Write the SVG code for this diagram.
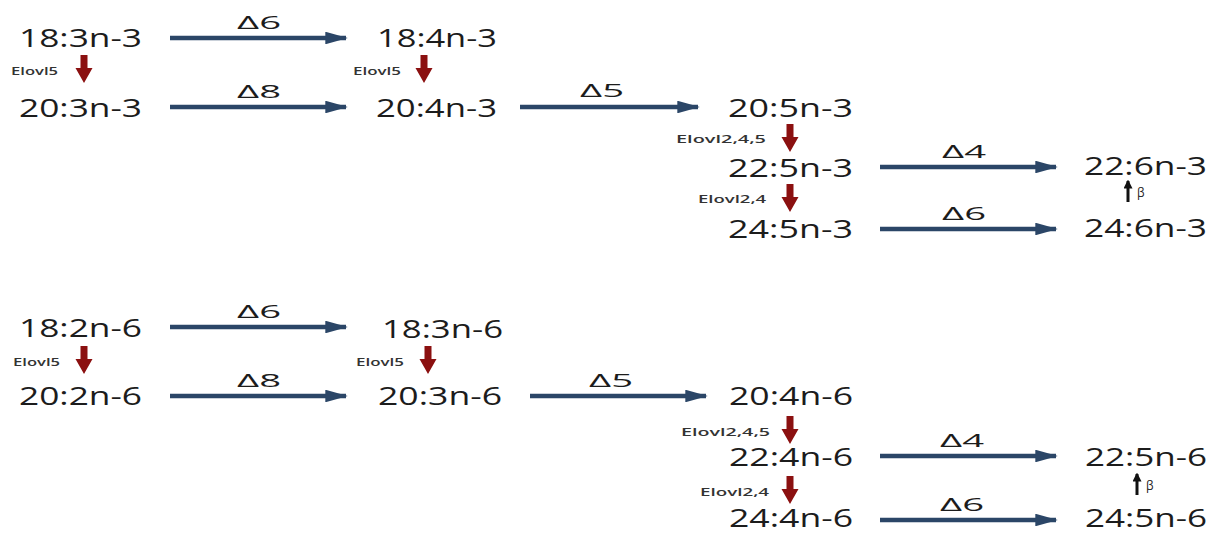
<svg xmlns="http://www.w3.org/2000/svg" width="1217" height="533" viewBox="0 0 1217 533">
<style>
.n{font-family:"Open Sans","DejaVu Sans",sans-serif;font-size:26px;font-weight:500;fill:#1c1c1c}
.d{font-family:"Open Sans","DejaVu Sans",sans-serif;font-size:18px;font-weight:500;fill:#1c1c1c}
.e{font-family:"Open Sans","DejaVu Sans",sans-serif;font-size:11px;font-weight:600;fill:#333}
.b{font-family:"Open Sans","DejaVu Sans",sans-serif;font-size:12px;fill:#222}
.c{stroke:#2b4667;stroke-width:4.5;fill:none;marker-end:url(#ah)}
.r{fill:#8b1010}
.k{stroke:#111;stroke-width:3;fill:none;marker-end:url(#kh)}
</style>
<defs>
<marker id="ah" markerWidth="5" markerHeight="2.8" refX="4.6" refY="1.4" orient="auto" markerUnits="strokeWidth"><path d="M0,0 L5,1.4 L0,2.8 Z" fill="#2b4667"/></marker>
<marker id="kh" markerWidth="3" markerHeight="3" refX="2.5" refY="1.5" orient="auto" markerUnits="strokeWidth"><path d="M0,0 L3,1.5 L0,3 Z" fill="#111"/></marker>
<path id="ra" d="M-3.5,0 H3.5 V13 H8.5 L0,28 L-8.5,13 H-3.5 Z"/>
</defs>
<g id="n3-18-3"><text class="n" x="19" y="47" textLength="123" lengthAdjust="spacingAndGlyphs">18:3n-3</text></g>
<g id="n3-18-4"><text class="n" x="377" y="47" textLength="120" lengthAdjust="spacingAndGlyphs">18:4n-3</text></g>
<g id="n3-20-3"><text class="n" x="19" y="117" textLength="123" lengthAdjust="spacingAndGlyphs">20:3n-3</text></g>
<g id="n3-20-4"><text class="n" x="376" y="117" textLength="121" lengthAdjust="spacingAndGlyphs">20:4n-3</text></g>
<g id="n3-20-5"><text class="n" x="728" y="117" textLength="125" lengthAdjust="spacingAndGlyphs">20:5n-3</text></g>
<g id="n3-22-5"><text class="n" x="728" y="177" textLength="125" lengthAdjust="spacingAndGlyphs">22:5n-3</text></g>
<g id="n3-24-5"><text class="n" x="728" y="238" textLength="125" lengthAdjust="spacingAndGlyphs">24:5n-3</text></g>
<g id="n3-22-6"><text class="n" x="1084" y="175" textLength="123" lengthAdjust="spacingAndGlyphs">22:6n-3</text></g>
<g id="n3-24-6"><text class="n" x="1084" y="237" textLength="123" lengthAdjust="spacingAndGlyphs">24:6n-3</text></g>

<g id="n6-18-2"><text class="n" x="19" y="337" textLength="123" lengthAdjust="spacingAndGlyphs">18:2n-6</text></g>
<g id="n6-18-3"><text class="n" x="382" y="338" textLength="121" lengthAdjust="spacingAndGlyphs">18:3n-6</text></g>
<g id="n6-20-2"><text class="n" x="19" y="405" textLength="123" lengthAdjust="spacingAndGlyphs">20:2n-6</text></g>
<g id="n6-20-3"><text class="n" x="378" y="405" textLength="124" lengthAdjust="spacingAndGlyphs">20:3n-6</text></g>
<g id="n6-20-4"><text class="n" x="729" y="405" textLength="124" lengthAdjust="spacingAndGlyphs">20:4n-6</text></g>
<g id="n6-22-4"><text class="n" x="729" y="466" textLength="124" lengthAdjust="spacingAndGlyphs">22:4n-6</text></g>
<g id="n6-24-4"><text class="n" x="729" y="527" textLength="124" lengthAdjust="spacingAndGlyphs">24:4n-6</text></g>
<g id="n6-22-5"><text class="n" x="1085" y="466" textLength="122" lengthAdjust="spacingAndGlyphs">22:5n-6</text></g>
<g id="n6-24-5"><text class="n" x="1085" y="527" textLength="122" lengthAdjust="spacingAndGlyphs">24:5n-6</text></g>

<g id="connectors">
<line class="c" x1="170" y1="38" x2="346" y2="38"/>
<line class="c" x1="170" y1="107" x2="346" y2="107"/>
<line class="c" x1="520" y1="107" x2="698" y2="107"/>
<line class="c" x1="880" y1="167" x2="1056" y2="167"/>
<line class="c" x1="880" y1="229" x2="1056" y2="229"/>
<line class="c" x1="170" y1="327" x2="346" y2="327"/>
<line class="c" x1="170" y1="396" x2="346" y2="396"/>
<line class="c" x1="530" y1="396" x2="706" y2="396"/>
<line class="c" x1="880" y1="456" x2="1056" y2="456"/>
<line class="c" x1="880" y1="520" x2="1056" y2="520"/>
<text class="d" x="259" y="29" text-anchor="middle" textLength="44" lengthAdjust="spacingAndGlyphs">Δ6</text>
<text class="d" x="259" y="98" text-anchor="middle" textLength="44" lengthAdjust="spacingAndGlyphs">Δ8</text>
<text class="d" x="602" y="97" text-anchor="middle" textLength="44" lengthAdjust="spacingAndGlyphs">Δ5</text>
<text class="d" x="964" y="158" text-anchor="middle" textLength="44" lengthAdjust="spacingAndGlyphs">Δ4</text>
<text class="d" x="964" y="220" text-anchor="middle" textLength="44" lengthAdjust="spacingAndGlyphs">Δ6</text>
<text class="d" x="259" y="318" text-anchor="middle" textLength="44" lengthAdjust="spacingAndGlyphs">Δ6</text>
<text class="d" x="259" y="387" text-anchor="middle" textLength="44" lengthAdjust="spacingAndGlyphs">Δ8</text>
<text class="d" x="611" y="387" text-anchor="middle" textLength="44" lengthAdjust="spacingAndGlyphs">Δ5</text>
<text class="d" x="962" y="447" text-anchor="middle" textLength="44" lengthAdjust="spacingAndGlyphs">Δ4</text>
<text class="d" x="962" y="511" text-anchor="middle" textLength="44" lengthAdjust="spacingAndGlyphs">Δ6</text>

<use href="#ra" class="r" x="84" y="55"/>
<use href="#ra" class="r" x="424" y="55"/>
<use href="#ra" class="r" x="790" y="124"/>
<use href="#ra" class="r" x="790" y="184"/>
<use href="#ra" class="r" x="84" y="346"/>
<use href="#ra" class="r" x="428" y="346"/>
<use href="#ra" class="r" x="790" y="416"/>
<use href="#ra" class="r" x="790" y="476"/>
<text class="e" x="11" y="75" textLength="47" lengthAdjust="spacingAndGlyphs">Elovl5</text>
<text class="e" x="353" y="75" textLength="48" lengthAdjust="spacingAndGlyphs">Elovl5</text>
<text class="e" x="676" y="143" textLength="90" lengthAdjust="spacingAndGlyphs">Elovl2,4,5</text>
<text class="e" x="698" y="203" textLength="68" lengthAdjust="spacingAndGlyphs">Elovl2,4</text>
<text class="e" x="13" y="366" textLength="47" lengthAdjust="spacingAndGlyphs">Elovl5</text>
<text class="e" x="356" y="366" textLength="48" lengthAdjust="spacingAndGlyphs">Elovl5</text>
<text class="e" x="681" y="436" textLength="89" lengthAdjust="spacingAndGlyphs">Elovl2,4,5</text>
<text class="e" x="700" y="496" textLength="69" lengthAdjust="spacingAndGlyphs">Elovl2,4</text>

<line class="k" x1="1128" y1="202" x2="1128" y2="181"/>
<line class="k" x1="1137" y1="495" x2="1137" y2="474"/>
<text class="b" x="1137" y="197">β</text>
<text class="b" x="1146" y="490">β</text>
</g>
</svg>
